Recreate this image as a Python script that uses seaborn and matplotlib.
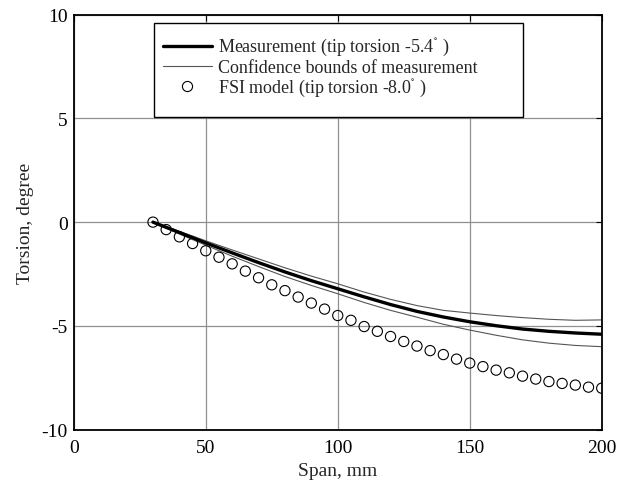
import matplotlib
matplotlib.use("Agg")
import matplotlib.pyplot as plt
import pandas as pd
import seaborn as sns
from matplotlib.lines import Line2D
from matplotlib.patches import Rectangle

# Measured torsion along the span (mean and confidence bounds)
span_meas = [30, 40, 50, 60, 70, 80, 90, 100, 110, 120, 130, 140, 150, 160, 170, 180, 190, 200]
torsion_meas = [0.0, -0.50, -1.00, -1.48, -1.95, -2.40, -2.82, -3.21, -3.60, -3.97, -4.30,
                -4.57, -4.80, -4.99, -5.15, -5.26, -5.34, -5.40]
torsion_upper = [0.0, -0.44, -0.90, -1.34, -1.77, -2.20, -2.60, -2.97, -3.37, -3.72, -4.02,
                 -4.25, -4.38, -4.50, -4.60, -4.68, -4.73, -4.71]
torsion_lower = [0.0, -0.57, -1.11, -1.64, -2.14, -2.62, -3.05, -3.45, -3.87, -4.25, -4.58,
                 -4.92, -5.20, -5.45, -5.67, -5.83, -5.94, -6.00]

# FSI model prediction
span_fsi = [30, 35, 40, 45, 50, 55, 60, 65, 70, 75, 80, 85, 90, 95, 100, 105, 110, 115,
            120, 125, 130, 135, 140, 145, 150, 155, 160, 165, 170, 175, 180, 185, 190, 195, 200]
torsion_fsi = [0.0, -0.36, -0.71, -1.03, -1.38, -1.69, -2.01, -2.36, -2.68, -3.02, -3.30,
               -3.61, -3.90, -4.19, -4.50, -4.73, -5.03, -5.26, -5.51, -5.75, -5.97, -6.19,
               -6.38, -6.60, -6.79, -6.96, -7.13, -7.26, -7.42, -7.56, -7.68, -7.77, -7.85,
               -7.95, -8.00]

x_ticks = [0, 50, 100, 150, 200]
y_ticks = [-10, -5, 0, 5, 10]

label_meas = r"Measurement (tip torsion -5.4$^{^{\circ}}$ )"
label_bounds = "Confidence bounds of measurement"
label_fsi = r"FSI model (tip torsion -8.0$^{^{\circ}}$ )"

sns.set_style("whitegrid")
plt.rcParams["font.family"] = ["Liberation Serif", "DejaVu Serif"]
plt.rcParams["mathtext.fontset"] = "stix"

meas = pd.DataFrame({"span": span_meas, "mean": torsion_meas,
                     "upper": torsion_upper, "lower": torsion_lower})
fsi = pd.DataFrame({"span": span_fsi, "torsion": torsion_fsi})

fig = plt.figure(figsize=(6.2, 4.89), dpi=100)
ax = fig.add_axes([0.119, 0.1192, 0.8515, 0.849])

bound_style = dict(color="#555555", linewidth=0.8)
sns.lineplot(data=meas, x="span", y="upper", ax=ax, **bound_style)
sns.lineplot(data=meas, x="span", y="lower", ax=ax, **bound_style)
sns.lineplot(data=meas, x="span", y="mean", ax=ax, color="black", linewidth=2.4)
sns.scatterplot(data=fsi, x="span", y="torsion", ax=ax, marker="o", s=54,
                facecolor="none", edgecolor="black", linewidth=0.8, zorder=3)

ax.set_xlim(0, 200)
ax.set_ylim(-10, 10)
ax.set_xticks(x_ticks)
ax.set_yticks(y_ticks)
ax.set_xticklabels([str(t) for t in x_ticks])
ax.set_yticklabels([str(t) for t in y_ticks])
ax.set_xlabel("Span, mm", fontsize=14, labelpad=4)
ax.set_ylabel("Torsion, degree", fontsize=14, labelpad=5)

ax.grid(True, color="#909090", linewidth=0.9)
ax.set_axisbelow(True)
for sp in ax.spines.values():
    sp.set_visible(True)
    sp.set_color("black")
    sp.set_linewidth(1.3)
ax.tick_params(axis="both", which="both", direction="in", length=4, width=0.8,
               top=True, right=True, labelsize=14, color="black", labelcolor="black")
ax.tick_params(axis="x", pad=7)
ax.tick_params(axis="y", pad=4.5)

# Legend box drawn as its own frame so the entries can sit freely inside it
legend_box = Rectangle((0.1516, 0.753), 0.699, 0.2265, transform=ax.transAxes,
                       facecolor="white", edgecolor="black", linewidth=1.0, zorder=4)
ax.add_patch(legend_box)

handles = [
    Line2D([], [], color="black", linewidth=2.4),
    Line2D([], [], color="#555555", linewidth=0.8),
    Line2D([], [], linestyle="none", marker="o", markersize=7.3,
           markerfacecolor="none", markeredgecolor="black", markeredgewidth=0.8),
]
leg = ax.legend(handles, [label_meas, label_bounds, label_fsi],
                loc="upper left", bbox_to_anchor=(0.1554, 0.965),
                borderaxespad=0, frameon=False, handlelength=2.7,
                handletextpad=0.35, borderpad=0.4, labelspacing=0.05,
                prop={"family": ["Liberation Serif"], "size": 13})
leg.set_zorder(5)

fig.savefig("out.png", dpi=100, facecolor="white")
